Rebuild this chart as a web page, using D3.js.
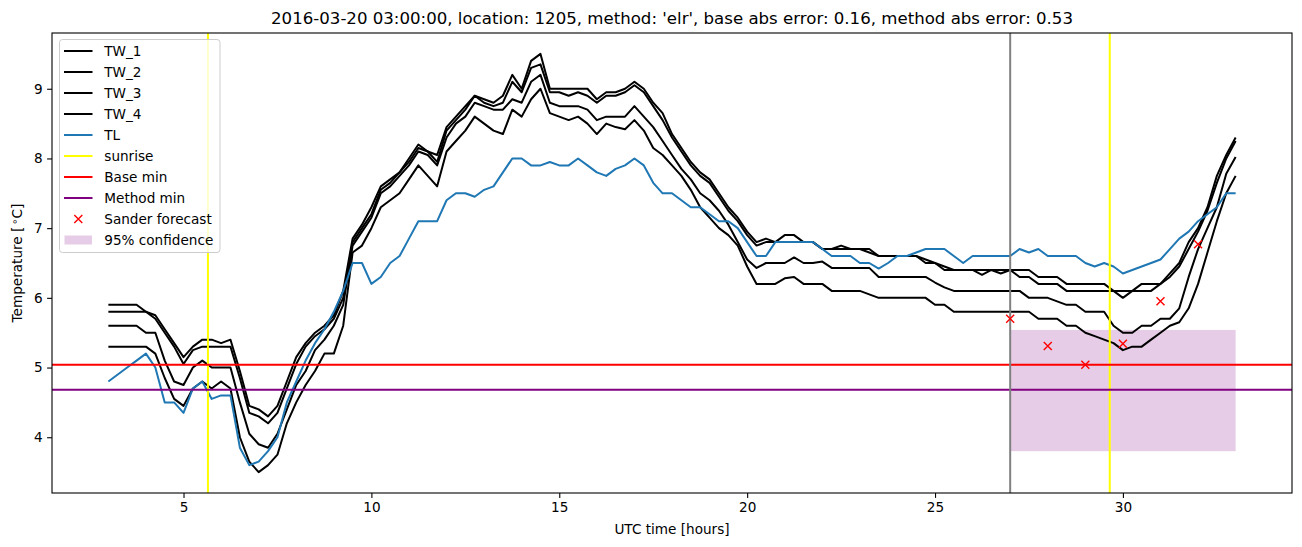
<!DOCTYPE html>
<html><head><meta charset="utf-8">
<script src="https://cdn.jsdelivr.net/npm/d3@7"></script>
<style>body{margin:0;background:#fff} text{font-family:"DejaVu Sans",sans-serif;fill:#000}</style>
</head><body><svg id="c" width="1302" height="547"></svg>
<script>
// ---- data ----
const hourStart = 3;
const hourStep = 0.25;
const TW_1 = [5.9,5.9,5.9,5.9,5.8,5.75,5.55,5.35,5.15,5.3,5.4,5.4,5.35,5.4,4.95,4.45,4.4,4.3,4.45,4.8,
  5.15,5.35,5.5,5.6,5.75,6.1,6.85,7.05,7.3,7.6,7.7,7.8,8.0,8.2,8.1,8.05,8.45,8.6,8.75,8.9,
  8.85,8.8,8.9,9.2,9.0,9.4,9.5,9.0,9.0,9.0,9.0,9.0,8.85,8.95,8.95,9.0,9.1,9.0,8.8,8.65,
  8.35,8.15,7.95,7.8,7.7,7.5,7.3,7.15,6.95,6.8,6.85,6.8,6.9,6.9,6.8,6.8,6.7,6.7,6.75,6.7,
  6.7,6.7,6.6,6.6,6.6,6.6,6.6,6.55,6.5,6.45,6.4,6.4,6.4,6.4,6.4,6.4,6.4,6.4,6.4,6.3,
  6.3,6.3,6.2,6.2,6.2,6.2,6.2,6.1,6.1,6.1,6.2,6.2,6.2,6.35,6.5,6.8,7.0,7.3,7.75,8.05,8.3];
const TW_2 = [5.8,5.8,5.8,5.8,5.8,5.7,5.5,5.3,5.05,5.25,5.3,5.3,5.3,5.3,4.85,4.35,4.3,4.2,4.35,4.7,
  5.05,5.3,5.45,5.55,5.7,6.0,6.8,7.0,7.2,7.55,7.65,7.8,7.95,8.15,8.1,7.95,8.4,8.55,8.7,8.9,
  8.8,8.75,8.8,9.1,8.95,9.3,9.35,8.95,8.95,8.9,8.95,8.9,8.8,8.9,8.9,8.95,9.05,8.95,8.75,8.55,
  8.3,8.1,7.9,7.75,7.65,7.45,7.25,7.1,6.9,6.75,6.8,6.8,6.8,6.8,6.8,6.8,6.7,6.7,6.7,6.7,
  6.7,6.65,6.6,6.6,6.6,6.6,6.6,6.5,6.5,6.4,6.4,6.4,6.4,6.33,6.4,6.35,6.4,6.3,6.3,6.2,
  6.2,6.2,6.1,6.1,6.1,6.1,6.1,6.1,6.0,6.1,6.1,6.1,6.2,6.3,6.45,6.7,6.95,7.25,7.65,8.0,8.25];
const TW_3 = [5.6,5.6,5.6,5.6,5.5,5.5,5.1,4.8,4.75,5.0,5.1,5.0,5.0,5.0,4.5,4.05,3.9,3.85,4.05,4.4,
  4.75,4.95,5.25,5.4,5.6,5.9,6.75,6.95,7.15,7.5,7.6,7.75,7.9,8.1,8.05,7.9,8.3,8.5,8.6,8.8,
  8.75,8.7,8.7,8.85,8.8,9.1,9.2,8.8,8.75,8.75,8.75,8.7,8.55,8.6,8.6,8.6,8.75,8.6,8.45,8.25,
  8.05,7.85,7.7,7.5,7.4,7.25,7.05,6.8,6.55,6.43,6.5,6.5,6.5,6.58,6.5,6.5,6.52,6.43,6.43,6.43,
  6.43,6.43,6.3,6.3,6.3,6.3,6.3,6.3,6.22,6.15,6.1,6.1,6.1,6.1,6.1,6.1,6.1,6.1,6.0,6.0,
  6.0,5.95,5.9,5.9,5.8,5.8,5.8,5.6,5.5,5.5,5.6,5.6,5.7,5.7,5.85,6.3,6.7,7.0,7.3,7.78,8.02];
const TW_4 = [5.3,5.3,5.3,5.3,5.3,5.2,4.85,4.55,4.45,4.7,4.8,4.7,4.8,4.7,4.0,3.65,3.5,3.6,3.75,4.2,
  4.5,4.75,4.95,5.2,5.2,5.6,6.65,6.75,7.0,7.3,7.4,7.5,7.7,7.9,7.75,7.6,8.1,8.25,8.4,8.6,
  8.5,8.4,8.35,8.7,8.6,8.85,9.0,8.65,8.6,8.55,8.6,8.5,8.35,8.5,8.45,8.42,8.55,8.4,8.15,8.05,
  7.9,7.75,7.55,7.3,7.15,7.0,6.9,6.75,6.45,6.2,6.2,6.2,6.28,6.3,6.2,6.2,6.2,6.1,6.1,6.1,
  6.1,6.05,6.0,6.0,6.0,6.0,6.0,6.0,5.9,5.9,5.8,5.8,5.8,5.8,5.8,5.8,5.8,5.8,5.8,5.7,
  5.7,5.7,5.6,5.6,5.5,5.45,5.4,5.35,5.25,5.3,5.3,5.4,5.5,5.6,5.65,5.85,6.2,6.65,7.1,7.5,7.75];
const TL = [4.8,4.9,5.0,5.1,5.2,5.0,4.5,4.5,4.35,4.7,4.8,4.55,4.6,4.6,3.85,3.6,3.65,3.8,4.0,4.5,
  4.8,5.1,5.35,5.55,5.8,6.1,6.5,6.5,6.2,6.3,6.5,6.6,6.85,7.1,7.1,7.1,7.4,7.5,7.5,7.45,
  7.55,7.6,7.8,8.0,8.0,7.9,7.9,7.95,7.9,7.9,8.0,7.9,7.8,7.75,7.85,7.9,8.0,7.9,7.65,7.5,
  7.5,7.4,7.3,7.3,7.2,7.1,7.1,7.0,6.8,6.6,6.6,6.8,6.8,6.8,6.8,6.8,6.7,6.6,6.6,6.6,
  6.5,6.5,6.42,6.5,6.6,6.6,6.65,6.7,6.7,6.7,6.6,6.5,6.6,6.6,6.6,6.6,6.6,6.7,6.65,6.7,
  6.6,6.6,6.6,6.6,6.5,6.45,6.5,6.45,6.35,6.4,6.45,6.5,6.55,6.7,6.85,6.95,7.1,7.2,7.3,7.5,7.5];
const sunriseHours = [5.65, 29.65];
const forecastStartHour = 27;
const baseMin = 5.04;
const methodMin = 4.68;
const sanderHours = [27, 28, 29, 30, 31, 32];
const sanderValues = [5.7, 5.31, 5.04, 5.34, 5.95, 6.77];
const confidenceHours = [27, 33];
const confidenceRange = [3.8, 5.54];
const xTicks = [5, 10, 15, 20, 25, 30];
const yTicks = [4, 5, 6, 7, 8, 9];
const titleText = "2016-03-20 03:00:00, location: 1205, method: 'elr', base abs error: 0.16, method abs error: 0.53";
const twNames = ["TW_1", "TW_2", "TW_3", "TW_4"];

// ---- layout ----
const M = {left: 52, right: 1292, top: 33, bottom: 493};
const FS = 13.6;
const LW = 2;
const svg = d3.select("#c");
const hours = TL.map((_, i) => hourStart + i * hourStep);
const tw = [TW_1, TW_2, TW_3, TW_4];

const xExt = d3.extent(hours);
const yExt = d3.extent([].concat(...tw, TL));
const xPad = (xExt[1] - xExt[0]) * 0.05, yPad = (yExt[1] - yExt[0]) * 0.05;
const x = d3.scaleLinear().domain([xExt[0] - xPad, xExt[1] + xPad]).range([M.left, M.right]);
const y = d3.scaleLinear().domain([yExt[0] - yPad, yExt[1] + yPad]).range([M.bottom, M.top]);

svg.append("defs").append("clipPath").attr("id", "clip")
  .append("rect").attr("x", M.left).attr("y", M.top).attr("width", M.right - M.left).attr("height", M.bottom - M.top);
const g = svg.append("g").attr("clip-path", "url(#clip)");

// confidence band
g.append("rect")
  .attr("x", x(confidenceHours[0])).attr("width", x(confidenceHours[1]) - x(confidenceHours[0]))
  .attr("y", y(confidenceRange[1])).attr("height", y(confidenceRange[0]) - y(confidenceRange[1]))
  .attr("fill", "purple").attr("fill-opacity", 0.2);

const line = d3.line().x((d, i) => x(hours[i])).y(d => y(d));
tw.forEach(s => g.append("path").attr("d", line(s)).attr("fill", "none").attr("stroke", "#000").attr("stroke-width", LW).attr("stroke-linejoin", "round"));
g.append("path").attr("d", line(TL)).attr("fill", "none").attr("stroke", "#1f77b4").attr("stroke-width", LW).attr("stroke-linejoin", "round");

sunriseHours.forEach(h => g.append("line").attr("x1", x(h)).attr("x2", x(h)).attr("y1", M.top).attr("y2", M.bottom).attr("stroke", "yellow").attr("stroke-width", LW));
g.append("line").attr("x1", M.left).attr("x2", M.right).attr("y1", y(baseMin)).attr("y2", y(baseMin)).attr("stroke", "red").attr("stroke-width", LW);
g.append("line").attr("x1", M.left).attr("x2", M.right).attr("y1", y(methodMin)).attr("y2", y(methodMin)).attr("stroke", "purple").attr("stroke-width", LW);
g.append("line").attr("x1", x(forecastStartHour)).attr("x2", x(forecastStartHour)).attr("y1", M.top).attr("y2", M.bottom).attr("stroke", "grey").attr("stroke-width", LW);

function xMark(sel, cx, cy, r) {
  sel.append("path").attr("d", `M${cx - r},${cy - r}L${cx + r},${cy + r}M${cx - r},${cy + r}L${cx + r},${cy - r}`)
    .attr("stroke", "red").attr("stroke-width", 1.4).attr("fill", "none");
}
sanderHours.forEach((h, i) => xMark(g, x(h), y(sanderValues[i]), 4));

// frame
svg.append("rect").attr("x", M.left).attr("y", M.top).attr("width", M.right - M.left).attr("height", M.bottom - M.top)
  .attr("fill", "none").attr("stroke", "#000").attr("stroke-width", 1.1);

// axes
const xa = svg.append("g").attr("transform", `translate(0,${M.bottom})`)
  .call(d3.axisBottom(x).tickValues(xTicks).tickSize(4.9).tickPadding(4.5).tickFormat(d3.format("d")));
const ya = svg.append("g").attr("transform", `translate(${M.left},0)`)
  .call(d3.axisLeft(y).tickValues(yTicks).tickSize(4.9).tickPadding(4.5).tickFormat(d3.format("d")));
[xa, ya].forEach(a => {
  a.select(".domain").remove();
  a.selectAll("line").attr("stroke", "#000").attr("stroke-width", 1.1);
  a.selectAll("text").attr("font-size", FS).attr("font-family", "DejaVu Sans");
});

// labels
svg.append("text").attr("x", (M.left + M.right) / 2).attr("y", 534).attr("text-anchor", "middle").attr("font-size", FS).text("UTC time [hours]");
const yl = svg.append("text").attr("transform", `translate(22,${(M.top + M.bottom) / 2}) rotate(-90)`).attr("text-anchor", "middle").attr("font-size", FS);
yl.append("tspan").text("Temperature [");
yl.append("tspan").attr("dy", -4.5).attr("font-size", 10).text("\u2009\u2218");
yl.append("tspan").attr("dy", 4.5).text("C]");
svg.append("text").attr("x", (M.left + M.right) / 2).attr("y", 24).attr("text-anchor", "middle").attr("font-size", 16.6).text(titleText);

// legend
const lg = svg.append("g");
lg.append("rect").attr("x", 59.5).attr("y", 39.5).attr("width", 160.5).attr("height", 213).attr("rx", 3)
  .attr("fill", "#fff").attr("fill-opacity", 0.8).attr("stroke", "#cccccc").attr("stroke-width", 1);
const entries = twNames.map(n => ({label: n, type: "line", color: "#000"})).concat([
  {label: "TL", type: "line", color: "#1f77b4"},
  {label: "sunrise", type: "line", color: "yellow"},
  {label: "Base min", type: "line", color: "red"},
  {label: "Method min", type: "line", color: "purple"},
  {label: "Sander forecast", type: "x"},
  {label: "95% confidence", type: "patch"}
]);
entries.forEach((e, i) => {
  const cy = 51 + i * 21.0;
  if (e.type === "line") lg.append("line").attr("x1", 64).attr("x2", 92.5).attr("y1", cy).attr("y2", cy).attr("stroke", e.color).attr("stroke-width", LW);
  else if (e.type === "x") xMark(lg, 78.3, cy, 4);
  else lg.append("rect").attr("x", 64.5).attr("y", cy - 4.5).attr("width", 27.5).attr("height", 9).attr("fill", "purple").attr("fill-opacity", 0.2);
  lg.append("text").attr("x", 104.3).attr("y", cy + 5).attr("font-size", FS).text(e.label);
});
</script></body></html>
